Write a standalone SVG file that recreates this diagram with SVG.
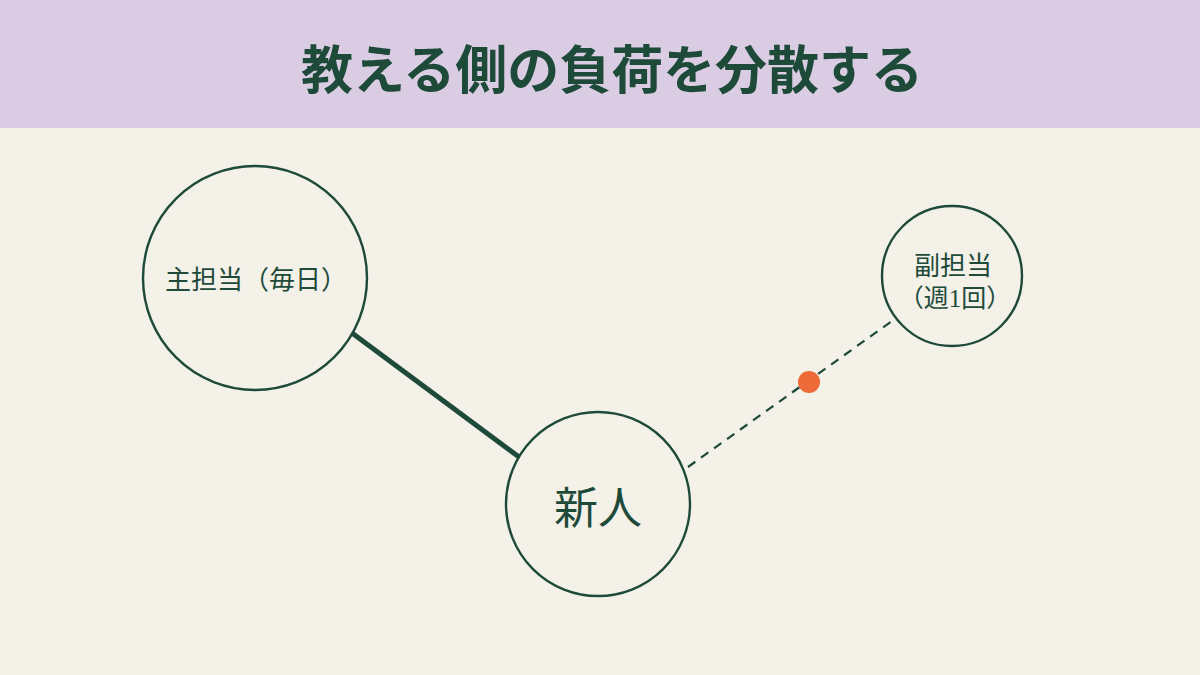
<svg xmlns="http://www.w3.org/2000/svg" width="1200" height="675" viewBox="0 0 1200 675">
  <style>
    .t { font-family: "Liberation Serif", "Noto Sans CJK JP", serif; fill: #1e4a3a; text-anchor: middle; }
    .node { fill: none; stroke: #1e4a3a; stroke-width: 2.4; }
  </style>
  <rect x="0" y="0" width="1200" height="675" fill="#f4f1e8"/>
  <rect x="0" y="0" width="1200" height="128" fill="#dacde3"/>
  <text class="t" x="612" y="89" font-size="52" font-weight="bold" textLength="622" lengthAdjust="spacing">教える側の負荷を分散する</text>
  <g id="connectors">
    <line x1="352" y1="333" x2="519" y2="457" stroke="#1e4a3a" stroke-width="5"/>
    <line x1="688" y1="467" x2="892" y2="321" stroke="#1e4a3a" stroke-width="2.2" stroke-dasharray="9 7"/>
    <circle cx="809" cy="382" r="11" fill="#ee6a38"/>
  </g>
  <g id="node-main">
    <circle class="node" cx="255" cy="278" r="112"/>
    <text class="t" x="256" y="289" font-size="26" textLength="182" lengthAdjust="spacing">主担当（毎日）</text>
  </g>
  <g id="node-newbie">
    <circle class="node" cx="598" cy="504" r="92"/>
    <text class="t" x="598" y="524" font-size="44">新人</text>
  </g>
  <g id="node-sub">
    <circle class="node" cx="952" cy="276" r="70"/>
    <text class="t" x="953" y="275" font-size="26">副担当</text>
    <text class="t" x="955" y="307" font-size="25">（週1回）</text>
  </g>
</svg>
